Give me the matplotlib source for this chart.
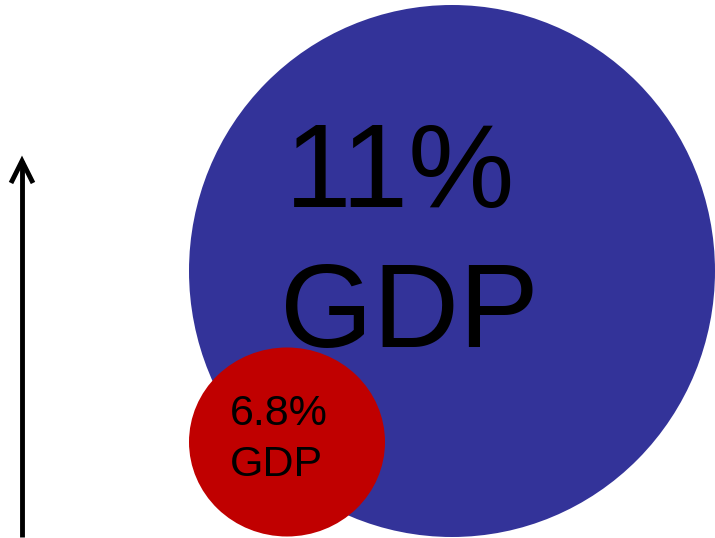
import matplotlib.pyplot as plt
from matplotlib.patches import Ellipse

# two shares of GDP shown as bubbles
shares = [11, 6.8]
labels = ["11%\nGDP", "6.8%\nGDP"]
colors = ["#333399", "#C00000"]

# bubble centres / sizes in pixel space (715 x 538 canvas, y down)
centers = [(452, 271), (287, 442)]
sizes = [(526, 532), (196, 189)]
# text: left x of each line, baselines of both lines, font size
text_pos = [((285, 280), (207, 347), 86), ((230, 230), (425, 476), 31)]

fig = plt.figure(figsize=(7.15, 5.38), dpi=100)
ax = fig.add_axes([0, 0, 1, 1])
ax.set_xlim(0, 715)
ax.set_ylim(538, 0)
ax.axis('off')

for (cx, cy), (w, h), c in zip(centers, sizes, colors):
    ax.add_patch(Ellipse((cx, cy), w, h, facecolor=c, edgecolor='none'))

for lab, (xs, bases, fs) in zip(labels, text_pos):
    for line, tx, by in zip(lab.split("\n"), xs, bases):
        ax.text(tx, by, line, ha='left', va='baseline', fontsize=fs,
                family='Liberation Sans', color='black')

# arrow on the left
ax.plot([22, 22], [537, 161], color='black', lw=3.5, solid_capstyle='butt')
ax.plot([11, 22, 33], [183, 161, 183], color='black', lw=3.5,
        solid_joinstyle='miter', solid_capstyle='butt')

fig.savefig('out.png', dpi=100)
